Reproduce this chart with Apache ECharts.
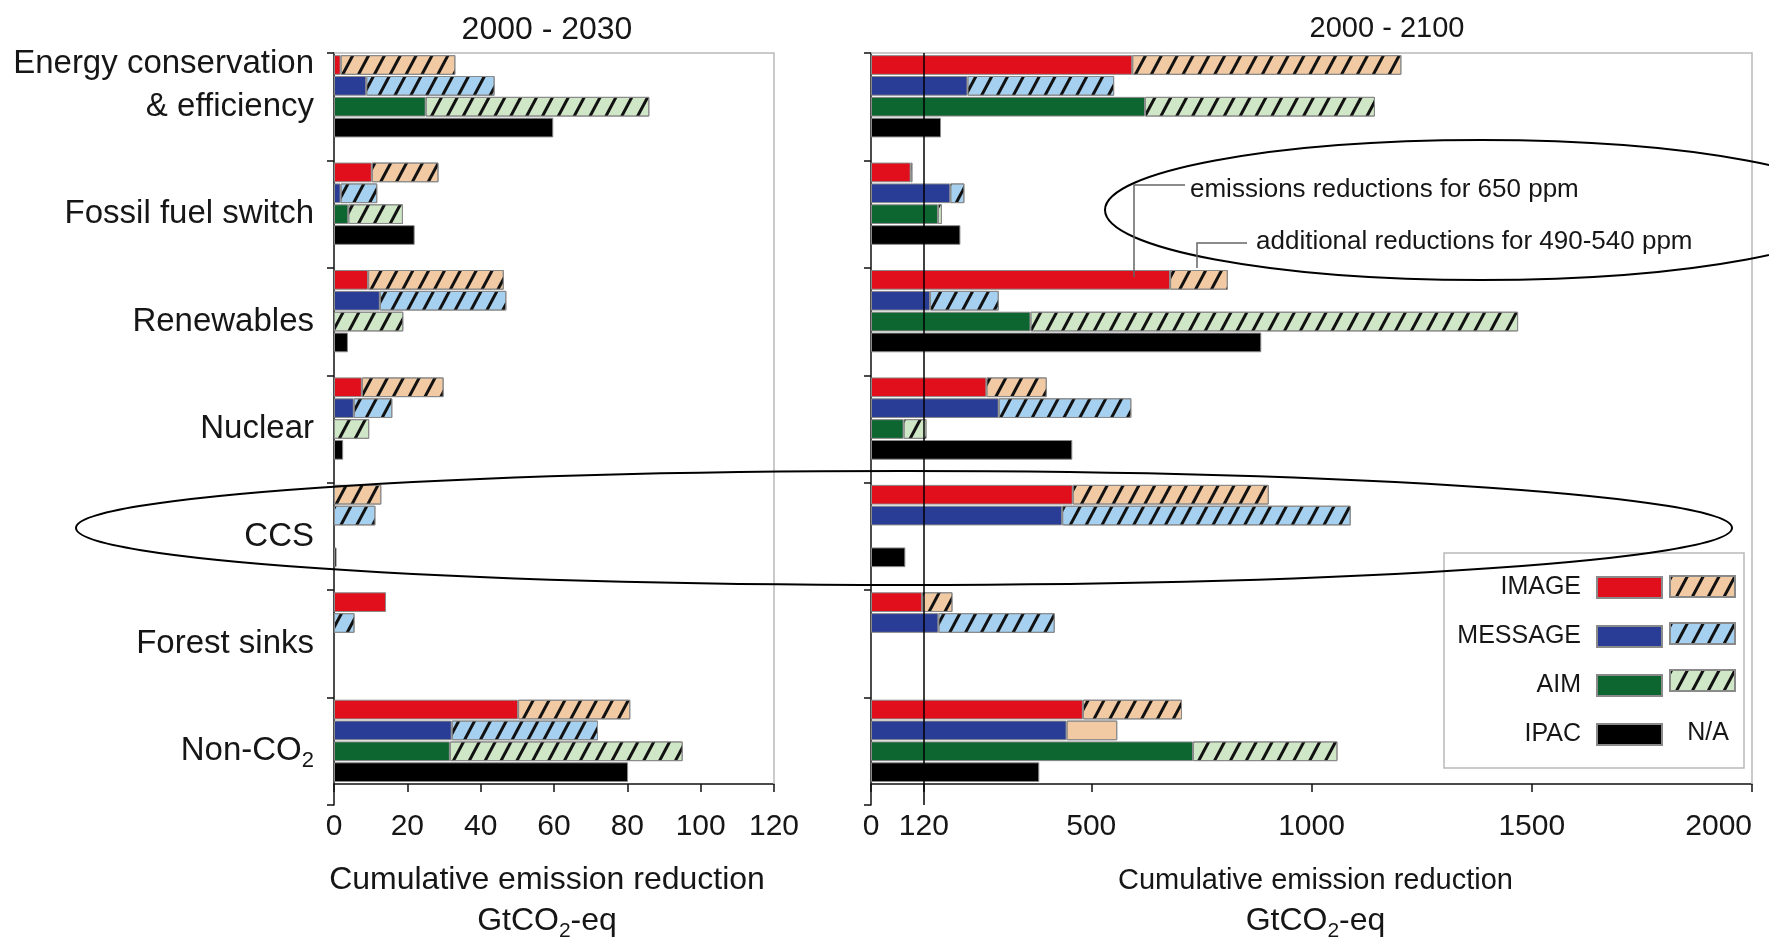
<!DOCTYPE html>
<html>
<head>
<meta charset="utf-8">
<script src="https://cdn.jsdelivr.net/npm/echarts@6/dist/echarts.min.js"></script>
<style>
html,body{margin:0;padding:0;background:#ffffff;}
#chart{width:1769px;height:940px;}
</style>
</head>
<body>
<div id="chart"></div>
<script>
// ---------------- DATA ----------------
const categories = ['Energy conservation & efficiency', 'Fossil fuel switch', 'Renewables', 'Nuclear', 'CCS', 'Forest sinks', 'Non-CO2'];
const models = ['IMAGE', 'MESSAGE', 'AIM', 'IPAC'];

// 2000-2030, cumulative emission reduction (GtCO2-eq)
const image2030_650   = [1.8, 10.3, 9.3, 7.6, null, 14.2, 50.2];
const image2030_add   = [31.3, 18.2, 37.0, 22.3, 12.9, null, 30.6];
const message2030_650 = [8.8, 1.8, 12.5, 5.4, null, null, 32.1];
const message2030_add = [35.0, 10.0, 34.5, 10.5, 11.3, 5.6, 39.9];
const aim2030_650     = [25.0, 3.9, null, null, null, null, 31.6];
const aim2030_add     = [61.0, 14.9, 18.9, 9.6, null, null, 63.5];
const ipac2030        = [59.8, 22.0, 3.8, 2.5, 0.7, null, 80.2];

// 2000-2100, cumulative emission reduction (GtCO2-eq)
const image2100_650   = [593, 90, 679, 262, 458, 116, 481];
const image2100_add   = [611, 4, 131, 137, 445, 69, 225];
const message2100_650 = [219, 180, 134, 290, 434, 153, 444];
const message2100_add = [333, 32, 156, 301, 655, 264, 115];
const aim2100_650     = [622, 152, 362, 74, null, null, 731];
const aim2100_add     = [522, 9, 1107, 52, null, null, 328];
const ipac2100        = [159, 203, 886, 457, 78, null, 382];

// axis ticks
const ticks2030 = { min: 0, max: 120, interval: 20 };
const ticks2100 = [0, 120, 500, 1000, 1500, 2000];
const marker2100 = 120;
// the one "additional" segment drawn without hatching in the original
const unhatched2100Message = ['Non-CO2'];

// ---------------- STYLE / LAYOUT ----------------
const FONT = "'Liberation Sans', Arial, Helvetica, sans-serif";
const INK = '#161616';
const SOLID = { IMAGE: '#e10f1c', MESSAGE: '#2a3d96', AIM: '#0d6630', IPAC: '#000000' };
const LIGHT = { IMAGE: '#f1c9a3', MESSAGE: '#a6d0f0', AIM: '#cfe7c6' };
const HATCH = { symbol: 'rect', symbolSize: 1, color: '#111111', dashArrayX: [1, 0], dashArrayY: [3, 11], rotation: -62 * Math.PI / 180 };
const NOHATCH = { symbol: 'rect', symbolSize: 1, color: 'rgba(0,0,0,0)', dashArrayX: [1, 0], dashArrayY: [1, 0] };
const L = { top: 53, height: 752, shift: -21 };
const P = [{ x: 334, w: 440 }, { x: 871, w: 881 }];
const axisY = L.top + L.height + L.shift;

const panels = [
  { solid: { IMAGE: image2030_650, MESSAGE: message2030_650, AIM: aim2030_650, IPAC: ipac2030 },
    add: { IMAGE: image2030_add, MESSAGE: message2030_add, AIM: aim2030_add }, plain: {} },
  { solid: { IMAGE: image2100_650, MESSAGE: message2100_650, AIM: aim2100_650, IPAC: ipac2100 },
    add: { IMAGE: image2100_add, MESSAGE: message2100_add, AIM: aim2100_add }, plain: { MESSAGE: unhatched2100Message } }
];

const v = x => (x == null ? '-' : x);
const barCommon = { type: 'bar', barCategoryGap: '4%', barGap: '6%', emphasis: { disabled: true }, animation: false };

const series = [];
panels.forEach((pan, gi) => {
  models.forEach(m => {
    series.push(Object.assign({}, barCommon, {
      name: m, xAxisIndex: gi, yAxisIndex: gi, stack: 'p' + gi + m, z: 2,
      itemStyle: { color: SOLID[m], borderColor: '#8a8a8a', borderWidth: 1 },
      data: pan.solid[m].map(v)
    }));
    if (pan.add[m]) {
      const plain = pan.plain[m] || [];
      series.push(Object.assign({}, barCommon, {
        name: m + ' 490-540 ppm', xAxisIndex: gi, yAxisIndex: gi, stack: 'p' + gi + m, z: 2,
        itemStyle: { color: LIGHT[m], borderColor: '#8a8a8a', borderWidth: 1, decal: HATCH },
        data: pan.add[m].map((x, i) => plain.indexOf(categories[i]) >= 0 && x != null
          ? { value: x, itemStyle: { color: LIGHT.IMAGE, decal: NOHATCH } } : v(x))
      }));
    }
  });
  const pad = Object.assign({}, barCommon, {
    name: '_pad' + gi, xAxisIndex: gi, yAxisIndex: gi, stack: 'p' + gi + 'pad', z: 5,
    data: categories.map(() => '-')
  });
  if (gi === 1) {
    pad.markLine = { silent: true, symbol: 'none', animation: false, label: { show: false },
      lineStyle: { color: '#000', width: 1.5, type: 'solid' }, data: [{ xAxis: marker2100 }] };
  }
  series.push(pad);
});

const nameRich = (size) => ({
  a: { fontSize: size, fontFamily: FONT, color: INK, lineHeight: 41 },
  g: { fontSize: 32, fontFamily: FONT, color: INK, lineHeight: 41 },
  s: { fontSize: 21, fontFamily: FONT, color: INK, lineHeight: 21, padding: [20, 0, 0, 0] }
});

const xAxisBase = {
  type: 'value', offset: L.shift, splitLine: { show: false },
  axisLine: { show: true, lineStyle: { color: '#111', width: 1.5 } },
  axisTick: { show: true, length: 8, lineStyle: { color: '#111', width: 1.5 } },
  nameLocation: 'middle', nameGap: 76,
  name: '{a|Cumulative emission reduction}\n{g|GtCO}{s|2}{g|-eq}'
};

const option = {
  backgroundColor: '#ffffff',
  animation: false,
  textStyle: { fontFamily: FONT },
  title: [
    { text: '2000 - 2030', left: 547, top: 14, textAlign: 'center', padding: 0,
      textStyle: { fontSize: 32, fontWeight: 'normal', color: INK, fontFamily: FONT } },
    { text: '2000 - 2100', left: 1387, top: 14, textAlign: 'center', padding: 0,
      textStyle: { fontSize: 29, fontWeight: 'normal', color: INK, fontFamily: FONT } }
  ],
  grid: [
    { left: P[0].x, top: L.top, width: P[0].w, height: L.height, outerBoundsMode: 'none', containLabel: false },
    { left: P[1].x, top: L.top, width: P[1].w, height: L.height, outerBoundsMode: 'none', containLabel: false }
  ],
  xAxis: [
    Object.assign({}, xAxisBase, { gridIndex: 0, min: ticks2030.min, max: ticks2030.max, interval: ticks2030.interval,
      axisLabel: { fontSize: 30, color: INK, margin: 28, fontFamily: FONT },
      nameTextStyle: { padding: [0, 14, 0, 0], rich: nameRich(32) } }),
    Object.assign({}, xAxisBase, { gridIndex: 1, min: 0, max: 2000,
      axisLabel: { fontSize: 30, color: INK, margin: 28, fontFamily: FONT, customValues: ticks2100,
        alignMaxLabel: 'right', formatter: (val) => String(val) },
      axisTick: { show: true, length: 8, lineStyle: { color: '#111', width: 1.5 }, customValues: ticks2100 },
      nameTextStyle: { padding: [0, 0, 0, 8], rich: nameRich(29) } })
  ],
  yAxis: [
    { type: 'category', gridIndex: 0, data: categories, inverse: true,
      axisLine: { show: true, lineStyle: { color: '#111', width: 1.5 } },
      axisTick: { show: true, length: 7, lineStyle: { color: '#111', width: 1.5 } },
      axisLabel: { fontSize: 33, color: INK, margin: 20, lineHeight: 43, fontFamily: FONT,
        formatter: (c) => c === 'Energy conservation & efficiency' ? 'Energy conservation\n& efficiency\n '
          : c === 'Non-CO2' ? '{m|Non-CO}{s|2}' : c,
        rich: {
          m: { fontSize: 33, color: INK, fontFamily: FONT, lineHeight: 43 },
          s: { fontSize: 22, color: INK, fontFamily: FONT, lineHeight: 23, padding: [20, 0, 0, 0] }
        } } },
    { type: 'category', gridIndex: 1, data: categories, inverse: true,
      axisLine: { show: true, lineStyle: { color: '#111', width: 1.5 } },
      axisTick: { show: true, length: 7, lineStyle: { color: '#111', width: 1.5 } },
      axisLabel: { show: false } }
  ],
  legend: [
    { data: models, orient: 'vertical', right: 1769 - 1663, top: 575, align: 'right', padding: 0,
      itemWidth: 65, itemHeight: 21, itemGap: 24, selectedMode: false, icon: 'rect',
      textStyle: { fontSize: 25, color: INK, fontFamily: FONT, lineHeight: 21, padding: [0, 11, 0, 0] } },
    { data: ['IMAGE 490-540 ppm', 'MESSAGE 490-540 ppm', 'AIM 490-540 ppm'], orient: 'vertical', left: 1669, top: 575,
      padding: 0, itemWidth: 65, itemHeight: 21, itemGap: 24, selectedMode: false, icon: 'rect',
      formatter: () => '', textStyle: { fontSize: 25, lineHeight: 21 } }
  ],
  graphic: [
    { type: 'polyline', silent: true, z: 1,
      shape: { points: [[P[0].x, L.top], [P[0].x + P[0].w, L.top], [P[0].x + P[0].w, axisY]] },
      style: { stroke: '#b9b9b9', lineWidth: 1.5, fill: null } },
    { type: 'polyline', silent: true, z: 1,
      shape: { points: [[P[1].x, L.top], [P[1].x + P[1].w, L.top], [P[1].x + P[1].w, axisY]] },
      style: { stroke: '#b9b9b9', lineWidth: 1.5, fill: null } },
    { type: 'rect', silent: true, z: 1, shape: { x: 1444, y: 553, width: 300, height: 215 },
      style: { fill: 'none', stroke: '#b9b9b9', lineWidth: 1.5 } },
    { type: 'text', silent: true, z: 10, x: 1708, y: 733,
      style: { text: 'N/A', fontSize: 25, fontFamily: FONT, fill: INK, align: 'center', verticalAlign: 'middle' } },
    { type: 'ellipse', silent: true, z: 100, shape: { cx: 904, cy: 528, rx: 828, ry: 57 },
      style: { fill: 'none', stroke: '#000', lineWidth: 2 } },
    { type: 'ellipse', silent: true, z: 100, shape: { cx: 1481, cy: 210, rx: 376, ry: 70 },
      style: { fill: 'none', stroke: '#000', lineWidth: 2 } },
    { type: 'text', silent: true, z: 100, x: 1190, y: 190,
      style: { text: 'emissions reductions for 650 ppm', fontSize: 26, fontFamily: FONT, fill: INK, align: 'left', verticalAlign: 'middle' } },
    { type: 'text', silent: true, z: 100, x: 1256, y: 242,
      style: { text: 'additional reductions for 490-540 ppm', fontSize: 26, fontFamily: FONT, fill: INK, align: 'left', verticalAlign: 'middle' } },
    { type: 'polyline', silent: true, z: 100, shape: { points: [[1185, 185], [1134, 185], [1134, 277]] },
      style: { stroke: '#666', lineWidth: 1.5, fill: null } },
    { type: 'polyline', silent: true, z: 100, shape: { points: [[1247, 243], [1197, 243], [1197, 268]] },
      style: { stroke: '#666', lineWidth: 1.5, fill: null } }
  ],
  series: series
};

const chart = echarts.init(document.getElementById('chart'), null, { renderer: 'canvas' });
chart.setOption(option);
</script>
</body>
</html>
